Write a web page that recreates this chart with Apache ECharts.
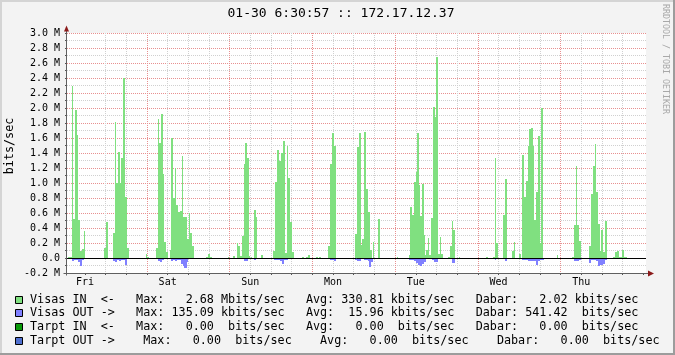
<!DOCTYPE html>
<html><head><meta charset="utf-8">
<script src="https://cdn.jsdelivr.net/npm/echarts@6/dist/echarts.min.js"></script>
<style>html,body{margin:0;padding:0;background:#f3f3f3}#c{width:675px;height:355px}</style>
</head><body><div id="c"></div>
<script>
// ---- data (hours since graph start, Mbits/sec) ----
const titleText = '01-30 6:30:57 :: 172.17.12.37';
const dayLabels = ['Fri', 'Sat', 'Sun', 'Mon', 'Tue', 'Wed', 'Thu'];
const firstMidnight = 17.2;   // hours after graph start
const rangeHours = 168;
const yMin = -0.2, yMax = 3.0, yStep = 0.2;

const visasIn = [
[0,0],[0.2,0.02],[1.45,2.29],[1.74,0.52],[2.32,1.98],[2.90,1.64],[3.19,0.51],[3.77,0.09],[4.35,0.12],[4.93,0.36],[5.22,0],
[10.74,0.13],[11.32,0.48],[11.90,0],
[13.26,0.34],[13.93,1.82],[14.22,1.0],[14.80,1.41],[15.38,1.0],[15.67,1.33],[16.25,2.4],[16.83,0.82],[17.41,0.13],[17.99,0],
[22.92,0.06],[23.21,0.02],[23.79,0],
[25.83,0.13],[26.32,1.86],[26.70,1.53],[27.28,1.92],[27.86,1.12],[28.15,0.21],[28.73,0.08],[29.31,0],
[29.89,0.11],[30.18,1.6],[30.76,0.8],[31.34,1.2],[31.63,0.71],[32.21,0.62],[32.79,0.63],[33.37,1.36],[33.66,0.55],[34.82,0.26],[35.40,0.6],[35.69,0.34],[36.27,0.16],[36.85,0],
[40.34,0.02],[40.92,0.06],[41.50,0.02],[42.08,0],
[46.72,0.01],[47.01,0],[48.17,0.03],[48.75,0],
[49.33,0.2],[49.62,0.16],[50.20,0.03],[50.78,0.3],[51.36,1.26],[51.65,1.53],[52.23,1.33],[52.81,0.03],[53.10,0],[53.39,0.02],[53.68,0],
[54.26,0.64],[54.84,0.55],[55.13,0],[56.29,0.04],[56.87,0],
[59.78,0.1],[60.36,1.02],[60.94,1.44],[61.52,1.3],[62.10,1.4],[62.68,1.56],[63.26,0.07],[63.75,1.5],[64.13,1.07],[64.71,0.48],[65.30,0.08],[65.88,0],
[68.20,0.02],[68.78,0],[69.36,0.02],[69.94,0.04],[70.52,0],[72.26,0.02],[72.84,0],[73.13,0.02],[73.71,0],
[75.74,0.16],[76.32,1.26],[76.90,1.67],[77.48,1.5],[78.06,0],
[83.58,0.32],[84.16,1.48],[84.74,1.67],[85.32,0.18],[85.61,0.26],[86.19,1.68],[86.77,0.92],[87.35,0.62],[87.93,0.11],[88.51,0],[88.80,0.21],[89.09,0],
[90.25,0.52],[90.83,0],[95.77,0.01],[96.06,0],
[99.25,0.04],[99.54,0.68],[100.12,0.57],[100.70,1.02],[101.14,1.15],[101.43,1.67],[102.01,0.98],[102.44,0.56],[102.88,0.99],[103.46,0.31],[103.89,0.04],
[104.18,0.11],[104.76,0.27],[105.05,0.04],[105.63,0.53],[106.21,2.01],[106.79,1.88],[107.08,2.68],[107.66,0.06],[108.24,0.28],[108.53,0.06],[109.11,0],
[110.56,0.02],[111.14,0.16],[111.72,0.5],[112.01,0.38],[112.59,0],[113.75,0.01],[114.04,0],
[121.58,0.02],[122.16,0],[123.62,0.02],[124.20,1.34],[124.49,0.2],[125.07,0],
[126.52,0.58],[127.10,1.06],[127.68,0],[129.14,0.09],[129.72,0.22],[130.01,0],[131.17,0.06],[131.75,0],
[132.04,1.38],[132.62,0.82],[133.20,1.03],[133.78,1.5],[134.07,1.72],[134.65,1.74],[135.23,1.5],[135.52,0.51],[136.10,0.88],[136.68,1.63],[137.26,0.2],[137.55,2.0],[138.13,0],
[142.20,0.04],[142.49,0],
[146.55,0.02],[147.13,0.44],[147.71,1.23],[148.00,0.44],[148.58,0.23],[149.16,0],
[151.48,0.16],[152.06,0.86],[152.65,1.23],[153.23,1.52],[153.52,0.88],[154.10,0.46],[154.68,0.1],[154.97,0.38],[155.55,0.08],[156.13,0.5],[156.71,0],
[158.45,0.02],[159.03,0.08],[159.61,0.09],[160.19,0.01],[161.06,0.11],[161.64,0.02],[162.51,0],
[168,0]
];

const visasOut = [
[0,0],[1.45,-0.035],[2.03,-0.022],[3.19,-0.053],[3.77,-0.111],[4.35,-0.022],[4.93,0],
[11.32,-0.018],[11.90,0],
[13.35,-0.044],[13.93,-0.05],[14.51,-0.031],[15.09,-0.044],[15.67,-0.031],[16.25,-0.022],[16.83,-0.098],[17.41,-0.013],[17.70,0],
[26.40,-0.035],[26.99,-0.053],[27.57,-0.031],[28.15,-0.013],[28.73,0],
[30.18,-0.04],[30.76,-0.031],[31.34,-0.04],[31.92,-0.022],[32.50,-0.031],[33.08,-0.075],[33.66,-0.1],[34.09,-0.135],[34.82,-0.053],[35.11,-0.013],[35.69,0],
[49.33,-0.013],[49.91,0],[50.78,-0.013],[51.36,-0.044],[52.52,-0.013],[52.81,0],[54.26,-0.022],[54.84,0],
[60.07,-0.031],[61.81,-0.044],[62.39,-0.08],[62.97,-0.031],[63.55,-0.022],[64.13,-0.013],[65.30,0],
[68.20,-0.018],[69.36,0],
[75.74,-0.013],[76.32,-0.031],[77.48,-0.044],[78.06,0],
[83.58,-0.022],[84.16,-0.044],[85.32,0],[86.19,-0.031],[87.35,-0.044],[87.64,-0.12],[88.22,-0.058],[88.80,0],
[99.25,-0.031],[100.12,-0.022],[100.70,-0.044],[101.28,-0.067],[101.86,-0.089],[102.44,-0.105],[103.01,-0.08],[103.59,-0.058],[104.18,-0.013],[104.76,-0.009],
[105.92,-0.031],[106.50,-0.053],[107.66,-0.013],[108.24,0],
[111.72,-0.07],[112.59,0],
[124.20,-0.031],[124.49,0],[127.10,-0.044],[127.68,0],[129.14,-0.018],[129.72,0],
[132.04,-0.031],[133.78,-0.042],[136.10,-0.098],[136.68,-0.044],[137.26,-0.022],[137.84,-0.031],[138.42,0],
[147.13,-0.035],[148.58,-0.022],[149.16,0],
[151.48,-0.067],[152.06,-0.031],[153.52,-0.044],[154.10,-0.111],[154.68,-0.089],[155.55,-0.075],[156.13,-0.022],[156.71,0],
[158.45,-0.018],[159.32,0],[159.61,-0.018],[160.19,0],[161.06,-0.018],[161.64,0],
[168,0]
];

const legendRows = [
  'Visas IN  <-   Max:   2.68 Mbits/sec   Avg: 330.81 kbits/sec   Dabar:   2.02 kbits/sec',
  'Visas OUT ->   Max: 135.09 kbits/sec   Avg:  15.96 kbits/sec   Dabar: 541.42  bits/sec',
  'Tarpt IN  <-   Max:   0.00  bits/sec   Avg:   0.00  bits/sec   Dabar:   0.00  bits/sec',
  'Tarpt OUT ->    Max:   0.00  bits/sec    Avg:   0.00  bits/sec    Dabar:   0.00  bits/sec'
];
const legendColors = ['#80e080', '#8080ff', '#0a9a0a', '#4f6fcf'];

// ---- helpers ----
// RRD AREA: each value holds from its timestamp until the next one.
// Contiguous non-zero runs are drawn as one stepped polygon, positioned through the axis scales.
function stepAreaSeries(name, pts, color, z) {
  return {
    name: name, type: 'custom', data: [[0, 0]], encode: {x: 0, y: 1}, clip: true, silent: true, z: z,
    renderItem: function (params, api) {
      const zeroY = Math.round(api.coord([0, 0])[1]);
      const children = [];
      let block = null, lastX = 0;
      const close = () => {
        if (block) {
          block.push([lastX, zeroY]);
          children.push({type: 'polygon', shape: {points: block}, style: {fill: color, lineWidth: 0}});
          block = null;
        }
      };
      for (let i = 0; i + 1 < pts.length; i++) {
        const v = pts[i][1];
        if (v === 0) { close(); continue; }
        const x0 = Math.round(api.coord([pts[i][0], 0])[0]);
        const x1 = Math.max(Math.round(api.coord([pts[i + 1][0], 0])[0]), x0 + 1);
        const y = Math.round(api.coord([pts[i][0], v])[1]);
        if (!block) block = [[x0, zeroY]];
        block.push([x0, y], [x1, y]);
        lastX = x1;
      }
      close();
      return {type: 'group', children: children};
    }
  };
}

// ---- chart ----
const FONT = '"DejaVu Sans Mono", monospace';
const MINOR = '#d0d0d0', MAJOR = '#e89090';
const gridHours = [];
for (let h = firstMidnight - 12; h < rangeHours - 0.5; h += 6) gridHours.push(+h.toFixed(2));
const noonHours = dayLabels.map((d, i) => +(firstMidnight - 12 + 24 * i).toFixed(2));

const chart = echarts.init(document.getElementById('c'), null, {renderer: 'canvas', width: 675, height: 355});
const G = {left: 67, right: 29, top: 33, bottom: 82};

chart.setOption({
  animation: false,
  backgroundColor: '#f3f3f3',
  grid: Object.assign({containLabel: false, outerBoundsMode: 'none', backgroundColor: '#ffffff', show: true, borderWidth: 0}, G),
  xAxis: {
    type: 'value', min: 0, max: rangeHours,
    axisLine: {show: false, onZero: false},
    axisTick: {show: true, customValues: gridHours, length: 2, lineStyle: {color: '#555'}},
    axisLabel: {
      customValues: noonHours, margin: 4, fontFamily: FONT, fontSize: 10, color: '#000',
      formatter: v => dayLabels[Math.round((v - (firstMidnight - 12)) / 24)] || ''
    },
    splitLine: {show: true, showMinLine: false, showMaxLine: false,
      lineStyle: {color: [MINOR, MINOR, MAJOR, MINOR], type: [1, 1], width: 1}}
  },
  yAxis: {
    type: 'value', min: yMin, max: yMax, interval: yStep,
    axisLine: {show: false},
    axisTick: {show: true, length: 2, lineStyle: {color: '#555'}},
    minorTick: {show: true, splitNumber: 2, length: 2, lineStyle: {color: '#555'}},
    axisLabel: {
      margin: 7, fontFamily: FONT, fontSize: 10, color: '#000',
      formatter: v => { const r = Math.round(v * 10) / 10; return r === 0 ? '0.0' : r.toFixed(1) + ' M'; }
    },
    splitLine: {show: true, lineStyle: {color: MAJOR, type: [1, 1], width: 1}},
    minorSplitLine: {show: true, lineStyle: {color: MINOR, type: [1, 1], width: 1}}
  },
  series: [
    stepAreaSeries('Visas IN', visasIn, legendColors[0], 2),
    stepAreaSeries('Visas OUT', visasOut, legendColors[1], 3)
  ]
});

// ---- decorations: frame, axes with arrows, zero rule, texts, legend ----
const pBL = chart.convertToPixel({gridIndex: 0}, [0, yMin]);
const pTR = chart.convertToPixel({gridIndex: 0}, [rangeHours, yMax]);
const p0 = chart.convertToPixel({gridIndex: 0}, [0, 0]);
const ax = Math.round(pBL[0]) - 0.5;
const ay = Math.round(pBL[1]) + 0.5;
const rx = Math.round(pTR[0]);
const ty = Math.round(pTR[1]);
const zy = Math.round(p0[1]) + 0.5;
const ARROW = '#8b1a1a', AXIS = '#606060';

const gfx = [
  {type: 'rect', shape: {x: 0, y: 0, width: 675, height: 2}, style: {fill: '#d4d4d4'}, z: 100, silent: true},
  {type: 'rect', shape: {x: 0, y: 0, width: 2, height: 355}, style: {fill: '#d4d4d4'}, z: 100, silent: true},
  {type: 'rect', shape: {x: 0, y: 353, width: 675, height: 2}, style: {fill: '#9c9c9c'}, z: 101, silent: true},
  {type: 'rect', shape: {x: 673, y: 0, width: 2, height: 355}, style: {fill: '#9c9c9c'}, z: 101, silent: true},
  {type: 'line', shape: {x1: Math.round(pBL[0]), y1: zy, x2: rx, y2: zy}, style: {stroke: '#000', lineWidth: 1}, z: 49, silent: true},
  {type: 'line', shape: {x1: ax, y1: ay + 2, x2: ax, y2: ty - 2}, style: {stroke: AXIS, lineWidth: 1}, z: 50, silent: true},
  {type: 'line', shape: {x1: ax - 3, y1: ay, x2: rx + 3, y2: ay}, style: {stroke: AXIS, lineWidth: 1}, z: 50, silent: true},
  {type: 'polygon', shape: {points: [[ax - 2.5, ty - 1.5], [ax + 2.5, ty - 1.5], [ax, ty - 7.5]]}, style: {fill: ARROW}, z: 51, silent: true},
  {type: 'polygon', shape: {points: [[rx + 2, ay - 3], [rx + 2, ay + 3], [rx + 8, ay]]}, style: {fill: ARROW}, z: 51, silent: true},
  {type: 'text', x: 341, y: 13.5, style: {text: titleText, font: '13px ' + FONT, fill: '#000', align: 'center', verticalAlign: 'middle', textAlign: 'center', textVerticalAlign: 'middle'}, z: 60, silent: true},
  {type: 'text', x: 10, y: 146, rotation: Math.PI / 2, style: {text: 'bits/sec', font: '11.75px ' + FONT, fill: '#000', align: 'center', verticalAlign: 'middle', textAlign: 'center', textVerticalAlign: 'middle'}, z: 60, silent: true},
  {type: 'text', x: 665.5, y: 59, rotation: -Math.PI / 2, style: {text: 'RRDTOOL / TOBI OETIKER', font: '8.3px ' + FONT, fill: '#a8a8a8', align: 'center', verticalAlign: 'middle', textAlign: 'center', textVerticalAlign: 'middle'}, z: 60, silent: true}
];
legendRows.forEach((row, i) => {
  const cy = 299.5 + 13.9 * i;
  gfx.push({type: 'rect', shape: {x: 15.5, y: Math.round(cy) - 3.5, width: 7, height: 7}, style: {fill: legendColors[i], stroke: '#000', lineWidth: 1}, z: 60, silent: true});
  gfx.push({type: 'text', x: 30, y: cy, style: {text: row, font: '11.75px ' + FONT, fill: '#000', align: 'left', verticalAlign: 'middle', textAlign: 'left', textVerticalAlign: 'middle'}, z: 60, silent: true});
});
chart.setOption({graphic: {elements: gfx}});
</script>
</body></html>
